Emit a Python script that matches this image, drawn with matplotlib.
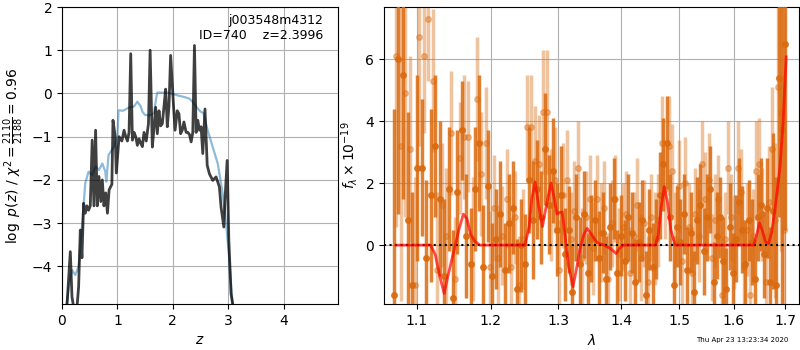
import numpy as np
import matplotlib
matplotlib.use('Agg')
import matplotlib.pyplot as plt
from matplotlib.ticker import NullLocator, FixedLocator, FixedFormatter

# p(z) panel
blue_z = [0.085, 0.12, 0.18, 0.24, 0.30, 0.36, 0.42, 0.48, 0.545, 0.606,
          0.667, 0.727, 0.78, 0.80, 0.84, 0.94, 1.0, 1.02, 1.10, 1.20,
          1.30, 1.36, 1.42, 1.45, 1.50, 1.60, 1.66, 1.70, 1.72, 1.80,
          1.90, 2.02, 2.10, 2.20, 2.30, 2.36, 2.45, 2.50, 2.55, 2.63,
          2.72, 2.81, 2.90, 2.96, 3.02, 3.08]
blue_p = [-4.87, -4.5, -4.08, -4.2, -4.0, -3.08, -2.07, -1.81, -1.89, -1.69,
          -1.77, -1.62, -1.8, -2.04, -1.42, -1.23, -1.0, -0.39, -0.4, -0.33,
          -0.3, -0.19, -0.3, -0.42, -0.5, -0.5, -0.45, -0.1, 0.02, 0.02,
          0.02, -0.02, -0.05, -0.08, -0.12, -0.2, -0.35, -0.42, -0.45, -0.86,
          -1.24, -1.62, -2.32, -3.0, -3.85, -4.95]

black_z = [0.09, 0.15, 0.18, 0.21, 0.27, 0.30, 0.33, 0.36, 0.39, 0.42,
           0.45, 0.48, 0.51, 0.545, 0.576, 0.606, 0.636, 0.667, 0.70, 0.727,
           0.757, 0.79, 0.82, 0.85, 0.90, 0.92, 0.96, 0.98, 1.03, 1.08,
           1.12, 1.15, 1.18, 1.21, 1.24, 1.27, 1.30, 1.33, 1.36, 1.39,
           1.42, 1.45, 1.48, 1.52, 1.56, 1.59, 1.63, 1.66, 1.69, 1.72,
           1.75, 1.78, 1.81, 1.84, 1.87, 1.90, 1.93, 1.96, 2.01, 2.04,
           2.08, 2.11, 2.14, 2.17, 2.20, 2.24, 2.27, 2.30, 2.33, 2.36,
           2.39, 2.42, 2.45, 2.48, 2.51, 2.54, 2.58, 2.62, 2.66, 2.72,
           2.78, 2.84, 2.87, 2.92, 2.94, 2.98, 3.01, 3.05, 3.09]
black_p = [-4.9, -3.66, -4.7, -4.95, -4.95, -4.47, -3.16, -3.8, -2.54, -2.77,
           -2.6, -2.7, -2.6, -1.08, -2.6, -0.85, -2.6, -1.92, -2.5, -2.0,
           -2.6, -2.3, -2.77, -2.23, -2.1, -0.62, -1.0, -1.84, -1.0, -1.1,
           -0.85, -1.0, -1.1, -0.9, 0.92, -1.08, -0.9, -1.0, -1.2, -1.05,
           -1.15, -1.23, -0.9, -1.1, -0.7, 1.0, -1.24, -0.8, -0.32, -0.93,
           -0.4, -0.75, -0.7, -0.3, 0.1, -0.77, -0.3, 0.88, -0.24, -0.85,
           -0.4, -0.47, -0.93, -0.85, -0.66, -0.9, -0.9, -0.95, -1.12, -0.9,
           1.11, -0.9, -0.62, -0.85, -0.77, -1.39, -0.36, -1.66, -1.86, -2.01,
           -1.93, -2.16, -2.63, -3.09, -2.48, -1.55, -3.39, -4.63, -4.95]

# spectrum panel, beam 1 (dark)
lam1 = [1.070, 1.076, 1.082, 1.088, 1.094, 1.100, 1.106, 1.112, 1.118, 1.124,
        1.130, 1.136, 1.142, 1.148, 1.154, 1.160, 1.166, 1.172, 1.178, 1.184,
        1.190, 1.196, 1.202, 1.208, 1.214, 1.220, 1.226, 1.232, 1.238, 1.244,
        1.250, 1.256, 1.262, 1.268, 1.274, 1.280, 1.286, 1.292, 1.298, 1.304,
        1.310, 1.316, 1.322, 1.328, 1.334, 1.340, 1.346, 1.352, 1.358, 1.364,
        1.370, 1.376, 1.382, 1.388, 1.394, 1.400, 1.406, 1.412, 1.418, 1.424,
        1.430, 1.436, 1.442, 1.448, 1.454, 1.460, 1.466, 1.472, 1.478, 1.484,
        1.490, 1.496, 1.502, 1.508, 1.514, 1.520, 1.526, 1.532, 1.538, 1.544,
        1.550, 1.556, 1.562, 1.568, 1.574, 1.580, 1.586, 1.592, 1.598, 1.604,
        1.610, 1.616, 1.622, 1.628, 1.634, 1.640, 1.646, 1.652, 1.658, 1.664,
        1.670, 1.676, 1.682, 1.688, 1.694, 1.700]
flux1 = [-1.6, 6.0, 5.5, 0.8, -1.3, 2.5, 2.5, -0.4, 1.6, 3.2,
         1.5, -1.0, 1.8, -1.7, 1.7, 3.7, 0.3, -0.6, 1.8, 3.3,
         -0.7, 1.9, -1.0, 0.2, 1.0, -0.8, 0.7, 1.2, -1.4, 0.0,
         -0.6, 2.1, 0.8, 1.8, 0.9, 3.1, 1.3, 2.4, 0.5, 1.6,
         -0.3, 0.5, -1.5, 0.9, -0.6, 1.0, -0.9, 0.2, 0.8, -0.4,
         0.4, -1.1, 0.6, 1.5, -0.9, 0.3, -0.5, 0.9, 0.4, -1.2,
         0.1, 0.8, -1.6, 0.5, -0.7, 0.2, 1.6, 2.6, 3.3, 0.9,
         -1.3, 0.6, 0.1, 1.0, -0.8, 0.4, -1.5, 0.8, 1.3, -0.2,
         0.9, 1.8, -1.2, 0.3, 0.9, -0.5, -1.4, 0.6, -0.9, 0.2,
         1.4, 0.5, -0.6, 0.8, 0.1, -1.1, 0.9, 1.3, -0.3, 1.2,
         -1.2, 1.1, -1.3, 5.4, 3.7, 6.5]
err1 = [6.0, 5.0, 4.0, 3.5, 3.0, 3.0, 2.2, 2.5, 2.8, 2.3,
        2.5, 2.5, 2.0, 2.2, 2.0, 1.6, 2.0, 1.8, 2.0, 2.2,
        2.0, 1.8, 1.7, 1.6, 1.7, 1.5, 1.6, 1.5, 1.6, 1.5,
        1.6, 1.7, 1.9, 1.6, 1.5, 1.8, 1.6, 1.7, 1.5, 1.6,
        1.5, 1.4, 1.5, 1.4, 1.5, 1.4, 1.3, 1.4, 1.3, 1.5,
        1.3, 1.4, 1.4, 1.3, 1.4, 1.3, 1.3, 1.4, 1.3, 1.4,
        1.3, 1.3, 1.4, 1.3, 1.4, 1.3, 1.4, 1.5, 1.5, 1.4,
        1.4, 1.3, 1.4, 1.3, 1.4, 1.3, 1.3, 1.4, 1.3, 1.4,
        1.4, 1.4, 1.3, 1.4, 1.3, 1.4, 1.3, 1.4, 1.3, 1.4,
        1.4, 1.4, 1.4, 1.3, 1.4, 1.3, 1.4, 1.5, 1.4, 1.6,
        1.8, 2.5, 3.5, 4.5, 6.0, 6.0]

# beam 2 (light)
lam2 = [1.073, 1.079, 1.085, 1.091, 1.097, 1.103, 1.109, 1.115, 1.121, 1.127,
        1.133, 1.139, 1.145, 1.151, 1.157, 1.163, 1.169, 1.175, 1.181, 1.187,
        1.193, 1.199, 1.205, 1.211, 1.217, 1.223, 1.229, 1.235, 1.241, 1.247,
        1.253, 1.259, 1.265, 1.271, 1.277, 1.283, 1.289, 1.295, 1.301, 1.307,
        1.313, 1.319, 1.325, 1.331, 1.337, 1.343, 1.349, 1.355, 1.361, 1.367,
        1.373, 1.379, 1.385, 1.391, 1.397, 1.403, 1.409, 1.415, 1.421, 1.427,
        1.433, 1.439, 1.445, 1.451, 1.457, 1.463, 1.469, 1.475, 1.481, 1.487,
        1.493, 1.499, 1.505, 1.511, 1.517, 1.523, 1.529, 1.535, 1.541, 1.547,
        1.553, 1.559, 1.565, 1.571, 1.577, 1.583, 1.589, 1.595, 1.601, 1.607,
        1.613, 1.619, 1.625, 1.631, 1.637, 1.643, 1.649, 1.655, 1.661, 1.667,
        1.673, 1.679, 1.685, 1.691, 1.697]
flux2 = [6.1, 3.2, 4.9, 3.1, -1.3, 6.7, 6.1, 7.3, 5.3, -0.8,
         1.3, 0.3, 3.6, -1.1, 2.8, 3.5, 3.5, 0.2, 4.7, 2.3,
         3.3, -0.7, 1.2, -0.4, 0.3, 1.5, -0.7, 0.9, -1.3, 0.2,
         3.8, 3.8, 2.7, 2.6, 4.3, 4.3, 1.3, 2.1, -0.8, 1.6,
         2.1, 0.2, 1.1, 2.5, -0.4, 0.9, 1.5, -0.1, 1.5, 0.4,
         1.2, -1.1, 0.7, 1.5, -0.3, 0.6, 1.0, -0.9, 0.3, 1.3,
         -0.4, 0.7, -1.2, 0.9, 0.2, 0.8, 3.3, 1.8, 3.2, 2.4,
         0.2, 1.9, -0.5, 2.0, 0.6, -0.9, 1.0, 0.3, 2.6, 1.5,
         2.1, -0.4, 0.8, 1.5, -1.6, 0.2, 2.5, 0.9, 0.1, 2.5,
         1.7, -0.7, 0.5, -1.6, 0.3, 2.4, 2.6, 1.0, -1.2, 1.4,
         3.1, 0.8, 5.1, 4.3, 0.5]
err2 = [5.5, 5.0, 4.0, 3.0, 3.5, 3.5, 2.5, 2.0, 2.3, 2.5,
        2.0, 2.2, 2.0, 2.0, 1.8, 2.0, 1.8, 2.0, 2.0, 2.0,
        1.8, 1.8, 1.7, 1.7, 1.6, 1.6, 1.6, 1.5, 1.6, 1.6,
        1.7, 1.7, 1.8, 1.6, 2.0, 2.0, 1.8, 1.7, 1.6, 1.7,
        1.6, 1.5, 1.6, 1.5, 1.6, 1.5, 1.4, 1.5, 1.4, 1.6,
        1.5, 1.5, 1.4, 1.4, 1.5, 1.4, 1.4, 1.5, 1.4, 1.5,
        1.4, 1.4, 1.5, 1.4, 1.5, 1.5, 1.5, 1.6, 1.6, 1.5,
        1.5, 1.5, 1.4, 1.5, 1.4, 1.5, 1.5, 1.5, 1.4, 1.5,
        1.5, 1.4, 1.5, 1.4, 1.5, 1.5, 1.5, 1.4, 1.5, 1.5,
        1.4, 1.5, 1.5, 1.5, 1.5, 1.6, 1.5, 1.5, 1.6, 1.8,
        2.0, 2.5, 3.5, 4.5, 5.0]

# best-fit model
mod_lam = [1.073, 1.118, 1.124, 1.130, 1.136, 1.142, 1.151, 1.156, 1.162, 1.167,
           1.172, 1.178, 1.185, 1.250, 1.256, 1.260, 1.265, 1.270, 1.276, 1.282,
           1.289, 1.294, 1.298, 1.302, 1.306, 1.310, 1.316, 1.323, 1.328, 1.334,
           1.340, 1.345, 1.352, 1.361, 1.372, 1.382, 1.392, 1.398, 1.404, 1.458,
           1.463, 1.468, 1.4735, 1.479, 1.485, 1.4927, 1.638, 1.644, 1.649, 1.655,
           1.661, 1.667, 1.673, 1.680, 1.686, 1.690, 1.696, 1.702]
mod_flux = [0.0, 0.0, -0.3, -1.0, -1.56, -0.9, 0.0, 0.5, 1.0, 0.85,
            0.35, 0.12, 0.0, 0.0, 0.6, 1.5, 2.04, 1.3, 0.6, 1.3,
            2.0, 1.5, 1.0, 1.05, 1.07, 0.4, -0.7, -1.34, -0.8, -0.1,
            0.35, 0.54, 0.35, 0.08, 0.0, -0.1, -0.27, -0.1, 0.0, 0.0,
            0.3, 1.2, 1.88, 1.4, 0.5, 0.0, 0.0, 0.35, 0.72, 0.45,
            0.1, 0.05, 0.4, 1.2, 2.0, 2.6, 4.0, 6.07]

wave_ticks = [1.1, 1.2, 1.3, 1.4, 1.5, 1.6, 1.7]

orange = '#da6a0f'

fig = plt.figure(figsize=(8, 3.5), dpi=100)
ax1 = fig.add_axes([0.0775, 0.1314, 0.345, 0.8486])
ax2 = fig.add_axes([0.48, 0.1314, 0.51875, 0.8486])

ax1.plot(blue_z, blue_p, color='tab:blue', alpha=0.5, lw=1.6)
ax1.plot(black_z, black_p, color='k', alpha=0.75, lw=2)
ax1.set_xlim(0, 4.98)
ax1.set_ylim(-4.87, 2)
ax1.grid()
ax1.set_xlabel('$z$')
ax1.set_ylabel(r'$\log\ p(z)$ / $\chi^2=\frac{2110}{2188}=0.96$')
ax1.text(0.945, 0.975, 'j003548m4312\nID=740    z=2.3996', ha='right', va='top',
         transform=ax1.transAxes, fontsize=9)

ax2.errorbar(lam2, flux2, yerr=err2, color=orange, alpha=0.4, marker='o', ms=4,
             linestyle='None', elinewidth=2.5, zorder=2)
ax2.errorbar(lam1, flux1, yerr=err1, color=orange, alpha=0.85, marker='o', ms=4,
             linestyle='None', elinewidth=2.5, zorder=3)
ax2.axhline(0, color='k', linestyle=':', lw=1.5, zorder=4)
ax2.plot(mod_lam, mod_flux, color='r', alpha=0.7, lw=2, zorder=5)

ax2.set_xscale('log')
ax2.set_xlim(1.058, 1.728)
ax2.set_ylim(-1.9, 7.68)
ax2.xaxis.set_major_locator(FixedLocator(wave_ticks))
ax2.xaxis.set_major_formatter(FixedFormatter([str(t) for t in wave_ticks]))
ax2.xaxis.set_minor_locator(NullLocator())
ax2.set_yticks([0, 2, 4, 6])
ax2.grid()
ax2.set_xlabel(r'$\lambda$')
ax2.set_ylabel(r'$f_\lambda\times10^{-19}$')

fig.text(0.985, 0.029, 'Thu Apr 23 13:23:34 2020', ha='right', va='center', fontsize=5)

fig.savefig('out.png', dpi=100)
